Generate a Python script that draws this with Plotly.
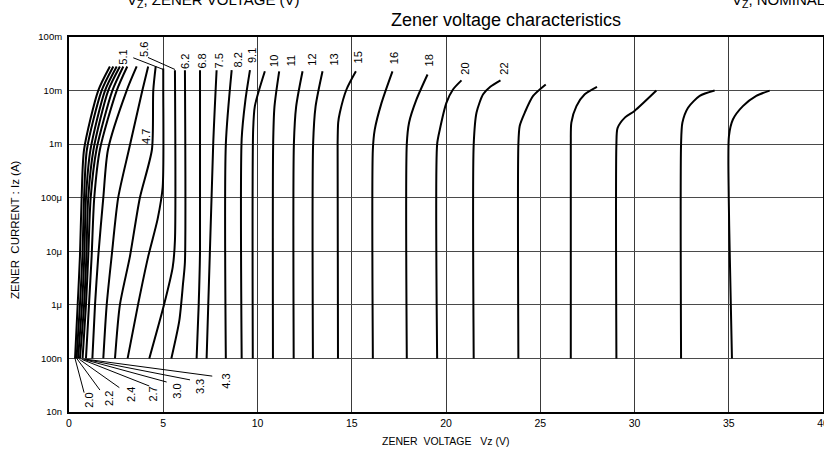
import math
import plotly.graph_objects as go

FONT = "Liberation Sans, Arial, Helvetica, sans-serif"

# ---------------- data ----------------
zener_names = ["2.0", "2.2", "2.4", "2.7", "3.0", "3.3", "3.9", "4.3", "4.7", "5.1",
               "5.6", "6.2", "6.8", "7.5", "8.2", "9.1", "10", "11", "12", "13",
               "15", "16", "18", "20", "22", "24", "27", "30", "33", "36"]

# Zener voltage (V) along each curve
vz_points = [
    [0.32, 0.46, 0.58, 0.67, 0.80, 1.55, 2.17],
    [0.40, 0.58, 0.71, 0.80, 0.95, 1.73, 2.35],
    [0.48, 0.69, 0.81, 0.90, 1.14, 1.91, 2.53],
    [0.58, 0.80, 0.92, 1.02, 1.30, 2.08, 2.70],
    [0.72, 0.90, 1.02, 1.15, 1.46, 2.30, 2.88],
    [0.90, 1.06, 1.20, 1.34, 1.64, 2.53, 3.09],
    [1.24, 1.38, 1.55, 1.82, 2.07, 3.06, 3.59],
    [1.82, 2.00, 2.26, 2.61, 3.18, 3.89, 4.20],
    [2.44, 2.70, 3.23, 3.76, 4.40, 4.47, 4.60],
    [3.11, 3.66, 4.20, 4.70, 4.97, 5.00, 5.00],
    [4.26, 5.04, 5.50, 5.62, 5.62],
    [5.43, 5.85, 6.05, 6.15, 6.15],
    [6.77, 6.88, 6.95, 6.95],
    [7.30, 7.65, 7.83],
    [8.32, 8.32, 8.63],
    [9.16, 9.16, 9.35, 9.60],
    [9.75, 9.77, 9.86, 10.39],
    [10.82, 10.83, 10.90, 11.15],
    [11.92, 11.93, 12.05, 12.39],
    [12.94, 12.95, 13.08, 13.45],
    [14.27, 14.25, 14.28, 14.37, 14.72, 15.22],
    [16.12, 16.12, 16.22, 16.58, 17.16],
    [17.92, 17.92, 18.04, 18.43, 19.02],
    [19.53, 19.53, 19.67, 20.02, 20.37, 20.82],
    [21.47, 21.47, 21.62, 21.97, 22.35, 22.89],
    [23.84, 23.84, 23.91, 24.18, 24.62, 25.29],
    [26.62, 26.62, 26.65, 26.92, 27.36, 28.01],
    [29.04, 29.04, 29.10, 29.50, 30.00, 31.16],
    [32.47, 32.47, 32.54, 32.84, 33.46, 34.25],
    [35.17, 35.05, 35.00, 35.01, 35.22, 35.75, 36.46, 37.17],
]

# Zener current along each curve, as exponent of 10 (A)
iz_exp = [
    [-7, -6, -5.1, -4, -3.1, -2, -1.55],
    [-7, -6, -5.1, -4, -3.1, -2, -1.55],
    [-7, -6, -5.1, -4, -3.1, -2, -1.55],
    [-7, -6, -5.1, -4, -3.1, -2, -1.55],
    [-7, -6, -5.1, -4, -3.1, -2, -1.55],
    [-7, -6, -5.1, -4, -3.1, -2, -1.55],
    [-7, -6, -5.1, -4, -3.1, -2, -1.55],
    [-7, -6, -5.1, -4, -3.1, -2, -1.55],
    [-7, -6, -5.1, -4, -3.1, -2, -1.55],
    [-7, -6, -5.1, -4.4, -3.8, -2, -1.59],
    [-7, -6, -5.3, -4.8, -1.62],
    [-7, -6.3, -5.6, -5.2, -1.62],
    [-7, -6, -5, -1.62],
    [-7, -3, -1.62],
    [-7, -3, -1.62],
    [-7, -2.9, -2.2, -1.62],
    [-7, -2.73, -2.29, -1.64],
    [-7, -3, -2.3, -1.64],
    [-7, -3, -2.3, -1.64],
    [-7, -3, -2.3, -1.64],
    [-7, -3, -2.6, -2.41, -1.98, -1.64],
    [-7, -3.1, -2.73, -2.23, -1.64],
    [-7, -3, -2.6, -2.17, -1.70],
    [-7, -3, -2.73, -2.23, -1.98, -1.81],
    [-7, -3, -2.41, -2.07, -1.93, -1.81],
    [-7, -3, -2.66, -2.41, -2.10, -1.886],
    [-7, -3, -2.6, -2.29, -2.07, -1.93],
    [-7, -3, -2.7, -2.5, -2.38, -2.0],
    [-7, -3, -2.6, -2.32, -2.10, -2.0],
    [-7, -5, -4, -2.85, -2.54, -2.29, -2.10, -2.0],
]

top_label_text = ["5.1", "5.6", "6.2", "6.8", "7.5", "8.2", "9.1", "10", "11", "12",
                  "13", "15", "16", "18", "20", "22"]
top_label_vz = [2.88, 3.98, 6.15, 7.08, 7.98, 8.96, 9.67, 10.84, 11.76, 12.87,
                14.01, 15.31, 17.26, 19.09, 21.01, 23.03]
top_label_exp = [-1.38, -1.24, -1.45, -1.45, -1.45, -1.42, -1.35, -1.44, -1.44, -1.43,
                 -1.42, -1.39, -1.39, -1.44, -1.59, -1.59]

bottom_label_text = ["2.0", "2.2", "2.4", "2.7", "3.0", "3.3", "4.3"]
bottom_label_vz = [1.06, 2.12, 3.29, 4.47, 5.71, 6.94, 8.32]
bottom_label_exp = [-7.77, -7.74, -7.68, -7.67, -7.61, -7.52, -7.42]

mid_label_text = ["4.7"]
mid_label_vz = [4.08]
mid_label_exp = [-2.85]

leader_vz_start = [3.41, 4.19, 0.32, 0.41, 0.55, 0.67, 0.76, 0.85, 0.94]
leader_exp_start = [-1.388, -1.382, -7.0, -7.0, -7.017, -7.017, -7.017, -7.017, -7.017]
leader_vz_end = [5.0, 5.62, 0.80, 1.64, 2.67, 4.26, 5.18, 6.42, 7.60]
leader_exp_end = [-1.606, -1.606, -7.638, -7.59, -7.545, -7.515, -7.44, -7.40, -7.33]

x_tickvals = [0, 5, 10, 15, 20, 25, 30, 35, 40]
y_tick_exp = [-8, -7, -6, -5, -4, -3, -2, -1]
y_ticktext = ["10n", "100n", "1\u03bc", "10\u03bc", "100\u03bc", "1m", "10m", "100m"]

# ---------------- figure ----------------
fig = go.Figure()

for name, vs, es in zip(zener_names, vz_points, iz_exp):
    fig.add_trace(go.Scatter(
        x=vs, y=[10 ** e for e in es], mode="lines", name=name,
        line=dict(color="black", width=2, shape="spline", smoothing=0.7),
        hoverinfo="name", showlegend=False))

for xs, ys, xe, ye in zip(leader_vz_start, leader_exp_start, leader_vz_end, leader_exp_end):
    fig.add_trace(go.Scatter(
        x=[xs, xe], y=[10 ** ys, 10 ** ye], mode="lines",
        line=dict(color="black", width=1), hoverinfo="skip", showlegend=False))

annotations = []
for texts, vs, es in ((top_label_text, top_label_vz, top_label_exp),
                      (bottom_label_text, bottom_label_vz, bottom_label_exp),
                      (mid_label_text, mid_label_vz, mid_label_exp)):
    for t, v, e in zip(texts, vs, es):
        annotations.append(dict(
            x=v, y=e, xref="x", yref="y", text=t, showarrow=False,
            textangle=-90, xanchor="center", yanchor="middle",
            font=dict(family=FONT, size=11, color="black")))

# Titles and axis titles (paper coordinates)
annotations += [
    dict(x=0.5796, y=1.0453, xref="paper", yref="paper", xanchor="center", yanchor="middle",
         text="Zener voltage characteristics", showarrow=False,
         font=dict(family=FONT, size=18, color="black")),
    dict(x=0.0743, y=1.0667, xref="paper", yref="paper",
         xanchor="left", yanchor="bottom", text="V<sub>Z</sub>, ZENER VOLTAGE (V)",
         showarrow=False, font=dict(family=FONT, size=15, color="black")),
    dict(x=0.8767, y=1.0667, xref="paper", yref="paper",
         xanchor="left", yanchor="bottom", text="V<sub>Z</sub>, NOMINAL",
         showarrow=False, font=dict(family=FONT, size=15, color="black")),
    dict(x=-0.0716, y=0.4853, xref="paper", yref="paper", xanchor="center",
         yanchor="middle", textangle=-90,
         text="ZENER\u00a0\u00a0CURRENT : Iz (A)", showarrow=False,
         font=dict(family=FONT, size=11.5, color="black")),
    dict(x=0.499, y=-0.0773, xref="paper", yref="paper", xanchor="center",
         yanchor="middle", text="ZENER\u00a0\u00a0VOLTAGE\u00a0\u00a0\u00a0Vz (V)",
         showarrow=False, font=dict(family=FONT, size=10.5, color="black")),
]

fig.update_layout(
    width=824, height=451,
    margin=dict(l=69, r=1, t=37, b=39, autoexpand=False),
    paper_bgcolor="white", plot_bgcolor="white",
    font=dict(family=FONT, color="black"),
    annotations=annotations,
    showlegend=False,
)

fig.update_xaxes(
    range=[0, 40], tickvals=x_tickvals, ticktext=[str(v) for v in x_tickvals],
    showgrid=True, gridcolor="#3a3a3a", gridwidth=1, zeroline=False,
    showline=True, linecolor="black", linewidth=2, mirror=True,
    ticks="", ticklabeloverflow="allow",
    tickfont=dict(family=FONT, size=10.5, color="black"),
)
fig.update_yaxes(
    type="log", range=[-8, -1],
    tickvals=[10 ** e for e in y_tick_exp], ticktext=y_ticktext,
    showgrid=True, gridcolor="#4a4a4a", gridwidth=1, zeroline=False,
    showline=True, linecolor="black", linewidth=2, mirror=True,
    ticks="", ticklabelstandoff=3,
    tickfont=dict(family=FONT, size=9.5, color="black"),
)

fig.write_html("out.html",
               config={"displayModeBar": False},
               post_script="document.body.style.margin='0px';"
                           "document.body.style.overflow='hidden';")
